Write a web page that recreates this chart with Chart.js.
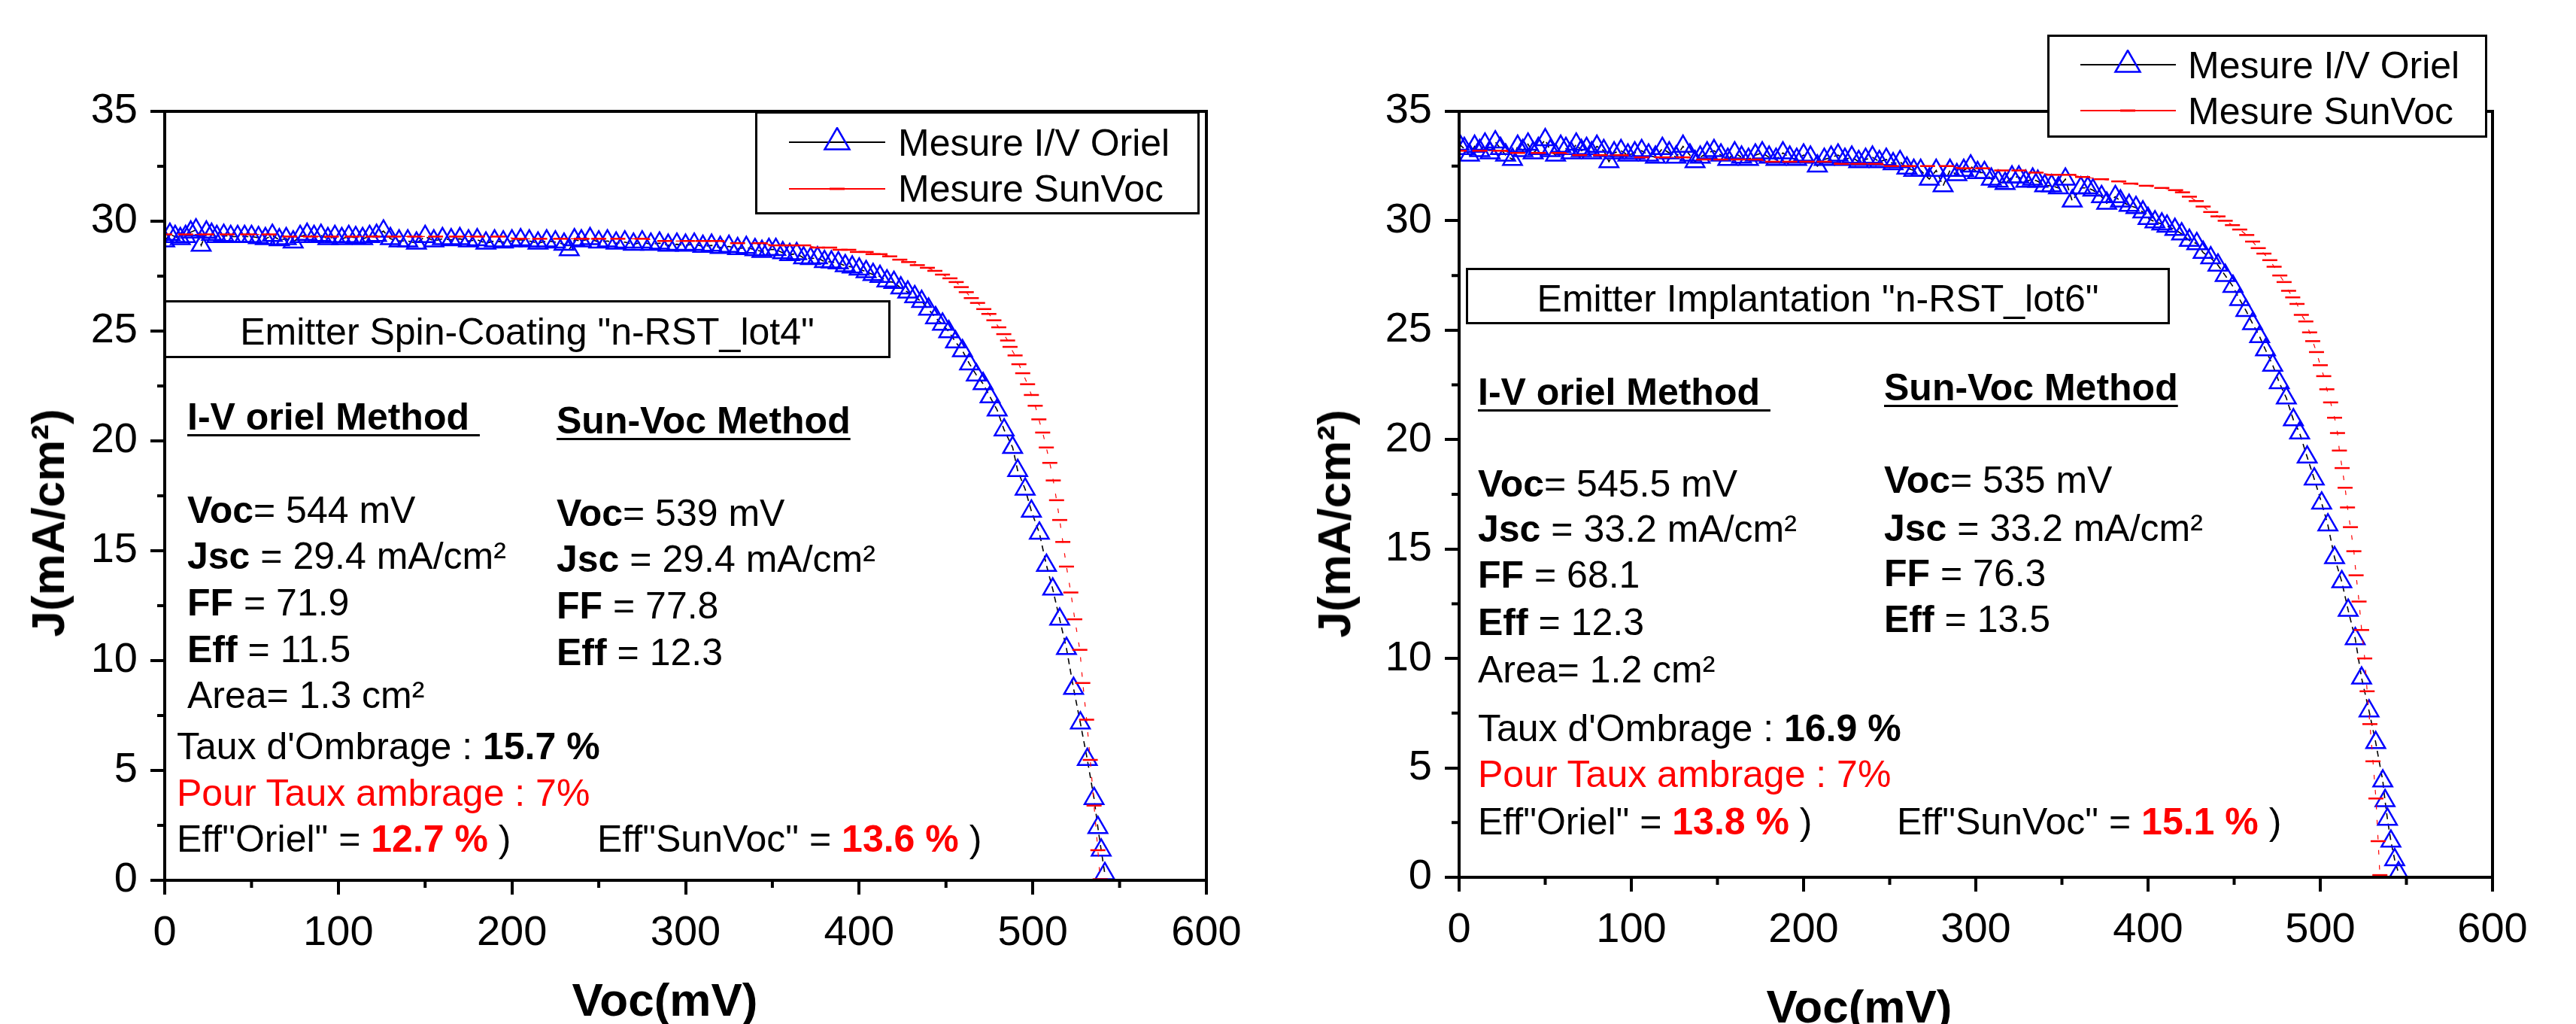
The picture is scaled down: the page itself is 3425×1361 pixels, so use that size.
<!DOCTYPE html>
<html>
<head>
<meta charset="utf-8">
<script src="https://cdn.jsdelivr.net/npm/chart.js@4.4.1/dist/chart.umd.min.js"></script>
<style>
  html, body { margin: 0; padding: 0; background: #fff; }
  #page { position: relative; width: 3425px; height: 1361px; overflow: hidden; background: #fff; }
  canvas { position: absolute; top: 0; }
  .t { position: absolute; font: 50px/50px 'Liberation Sans', Arial, sans-serif; white-space: pre; color: #000; }
  .red { color: #f00; }
  .u { text-decoration: underline; text-decoration-thickness: 3px; text-underline-offset: 6px; }
  .box { position: absolute; border: 3px solid #000; background: #fff; box-sizing: border-box; }
  .axt { position: absolute; font: bold 62px/62px 'Liberation Sans', Arial, sans-serif; white-space: pre; color: #000; }
  svg { position: absolute; }
</style>
</head>
<body>
<div id="page">
  <canvas id="cL" width="1700" height="1361" style="left:0"></canvas>
  <canvas id="cR" width="1725" height="1361" style="left:1700px"></canvas>

  <!-- left chart notes -->
  <div class="box" style="left:1004px;top:148px;width:591px;height:137px">
    <svg style="left:42px;top:18px" width="128" height="40"><line x1="0" y1="20" x2="128" y2="20" stroke="#000" stroke-width="2"/><polygon points="64,1 80.5,29.5 47.5,29.5" fill="none" stroke="#00f" stroke-width="2.5"/></svg>
    <div class="t" style="left:187px;top:14px">Mesure I/V Oriel</div>
    <svg style="left:42px;top:80px" width="128" height="40"><line x1="0" y1="20" x2="128" y2="20" stroke="#f00" stroke-width="2"/><line x1="54" y1="20" x2="74" y2="20" stroke="#f00" stroke-width="3"/></svg>
    <div class="t" style="left:187px;top:75px">Mesure SunVoc</div>
  </div>
  <div class="box" style="left:218px;top:399px;width:966px;height:77px"></div>
  <div class="t" style="left:218px;top:416px;width:966px;text-align:center">Emitter Spin-Coating "n-RST_lot4"</div>
  <div class="t u" style="left:249px;top:529px"><b>I-V oriel Method </b></div>
  <div class="t u" style="left:740px;top:534px"><b>Sun-Voc Method</b></div>
  <div class="t" style="left:249px;top:653px"><b>Voc</b>= 544 mV</div>
  <div class="t" style="left:249px;top:714px"><b>Jsc</b> = 29.4 mA/cm²</div>
  <div class="t" style="left:249px;top:776px"><b>FF</b> = 71.9</div>
  <div class="t" style="left:249px;top:838px"><b>Eff</b> = 11.5</div>
  <div class="t" style="left:249px;top:899px">Area= 1.3 cm²</div>
  <div class="t" style="left:740px;top:657px"><b>Voc</b>= 539 mV</div>
  <div class="t" style="left:740px;top:718px"><b>Jsc</b> = 29.4 mA/cm²</div>
  <div class="t" style="left:740px;top:780px"><b>FF</b> = 77.8</div>
  <div class="t" style="left:740px;top:842px"><b>Eff</b> = 12.3</div>
  <div class="t" style="left:235px;top:967px">Taux d'Ombrage : <b>15.7 %</b></div>
  <div class="t red" style="left:235px;top:1029px">Pour Taux ambrage : 7%</div>
  <div class="t" style="left:235px;top:1090px">Eff"Oriel" = <b class="red">12.7 %</b> )</div>
  <div class="t" style="left:794px;top:1090px">Eff"SunVoc" = <b class="red">13.6 %</b> )</div>
  <div class="axt" style="left:64px;top:695px;transform:translate(-50%,-50%) rotate(-90deg)">J(mA/cm²)</div>
  <div class="axt" style="left:884px;top:1298px;transform:translateX(-50%)">Voc(mV)</div>

  <!-- right chart notes -->
  <div class="box" style="left:2722px;top:46px;width:585px;height:137px">
    <svg style="left:41px;top:17px" width="128" height="40"><line x1="0" y1="20" x2="127" y2="20" stroke="#000" stroke-width="2"/><polygon points="63,1 79.5,29.5 46.5,29.5" fill="none" stroke="#00f" stroke-width="2.5"/></svg>
    <div class="t" style="left:184px;top:13px">Mesure I/V Oriel</div>
    <svg style="left:41px;top:78px" width="128" height="40"><line x1="0" y1="20" x2="127" y2="20" stroke="#f00" stroke-width="2"/><line x1="53" y1="20" x2="73" y2="20" stroke="#f00" stroke-width="3"/></svg>
    <div class="t" style="left:184px;top:74px">Mesure SunVoc</div>
  </div>
  <div class="box" style="left:1949px;top:356px;width:936px;height:75px"></div>
  <div class="t" style="left:1949px;top:372px;width:936px;text-align:center">Emitter Implantation "n-RST_lot6"</div>
  <div class="t u" style="left:1965px;top:496px"><b>I-V oriel Method </b></div>
  <div class="t u" style="left:2505px;top:490px"><b>Sun-Voc Method</b></div>
  <div class="t" style="left:1965px;top:618px"><b>Voc</b>= 545.5 mV</div>
  <div class="t" style="left:1965px;top:678px"><b>Jsc</b> = 33.2 mA/cm²</div>
  <div class="t" style="left:1965px;top:739px"><b>FF</b> = 68.1</div>
  <div class="t" style="left:1965px;top:802px"><b>Eff</b> = 12.3</div>
  <div class="t" style="left:1965px;top:865px">Area= 1.2 cm²</div>
  <div class="t" style="left:2505px;top:613px"><b>Voc</b>= 535 mV</div>
  <div class="t" style="left:2505px;top:677px"><b>Jsc</b> = 33.2 mA/cm²</div>
  <div class="t" style="left:2505px;top:737px"><b>FF</b> = 76.3</div>
  <div class="t" style="left:2505px;top:798px"><b>Eff</b> = 13.5</div>
  <div class="t" style="left:1965px;top:943px">Taux d'Ombrage : <b>16.9 %</b></div>
  <div class="t red" style="left:1965px;top:1004px">Pour Taux ambrage : 7%</div>
  <div class="t" style="left:1965px;top:1067px">Eff"Oriel" = <b class="red">13.8 %</b> )</div>
  <div class="t" style="left:2522px;top:1067px">Eff"SunVoc" = <b class="red">15.1 %</b> )</div>
  <div class="axt" style="left:1774px;top:696px;transform:translate(-50%,-50%) rotate(-90deg)">J(mA/cm²)</div>
  <div class="axt" style="left:2472px;top:1307px;transform:translateX(-50%)">Voc(mV)</div>
</div>

<script>
// values: voltage in mV, current density in mA/cm2

// left panel, I/V Oriel (triangles)
const leftOrielV = [0, 3, 6, 9, 12, 15, 18, 21, 24, 27, 30, 34, 38, 42, 46, 50, 54, 58, 62, 66,
  70, 74, 78, 82, 86, 90, 94, 98, 102, 106, 110, 114, 118, 122, 126, 130, 135, 140, 145, 150,
  155, 160, 165, 170, 175, 180, 185, 190, 195, 200, 205, 210, 215, 220, 225, 230, 233, 236, 240, 245,
  250, 255, 260, 265, 270, 275, 280, 285, 290, 295, 300, 305, 310, 315, 320, 325, 330, 335, 340,
  344, 348, 352, 356, 360, 364, 368, 372, 376, 380, 384, 388, 392, 396, 400, 404, 408, 412, 416, 420,
  424, 428, 432, 436, 440, 444, 448, 451.6, 455.5, 459.5, 463.6, 467.5, 471.4, 475.4, 479.5, 483.5,
  488.4, 491.3, 495.6, 499.2, 503.8, 507.9, 511.5, 515.5, 519.4, 523.5, 527.4, 531.4, 535.3, 537.5, 539.4, 541.5];
const leftOrielJ = [29.1, 29.4, 29.3, 29.2, 29.3, 29.5, 29.6, 28.9, 29.5, 29.4, 29.3, 29.35, 29.3, 29.3, 29.3, 29.3, 29.25, 29.2, 29.35, 29.15,
  29.2, 29.05, 29.3, 29.4, 29.3, 29.35, 29.2, 29.3, 29.2, 29.3, 29.25, 29.2, 29.3, 29.35, 29.55, 29.2, 29.1, 29.1, 29.0, 29.3,
  29.1, 29.2, 29.15, 29.2, 29.1, 29.15, 29.0, 29.1, 29.05, 29.1, 29.15, 29.1, 29.0, 29.1, 29.05, 28.95, 28.7, 29.15, 29.1, 29.2,
  29.05, 29.1, 29.0, 29.05, 28.95, 29.05, 28.95, 29.0, 28.9, 28.95, 28.9, 28.95, 28.85, 28.9, 28.8, 28.85, 28.75, 28.8, 28.7,
  28.62, 28.71, 28.71, 28.56, 28.48, 28.52, 28.33, 28.3, 28.33, 28.16, 28.14, 28.1, 27.97, 27.91, 27.82, 27.7, 27.57, 27.48, 27.28, 27.21,
  26.96, 26.77, 26.56, 26.34, 25.99, 25.6, 25.31, 24.97, 24.5, 24.1, 23.5, 23.0, 22.6, 22.0, 21.4, 20.5,
  19.7, 18.65, 17.8, 16.8, 15.8, 14.33, 13.25, 11.88, 10.55, 8.73, 7.16, 5.5, 3.72, 2.4, 1.37, 0.3];

// left panel, SunVoc (red dashes)
const leftSunVocV = [0, 12, 24, 36, 48, 60, 72, 84, 96, 108, 120, 132, 144, 156, 168, 180, 192, 204, 216, 228,
  240, 250, 261, 275, 288, 301, 310, 318, 330, 343, 352, 360, 368, 376, 383, 389, 394, 399, 404, 408,
  412, 417.6, 423.4, 428.5, 433.5, 439.3, 443.6, 448, 452.3, 455.9, 458.8, 461.7, 464.6, 468.2, 471.8, 474.7, 477.6, 480.4, 483.3, 485.5,
  486.9, 489.8, 492, 494.2, 497, 499.2, 501.4, 503.5, 505.7, 507.8, 509.8, 511.8, 513.7, 515.5, 517.3, 519.4, 521.9, 524.2, 527.1, 528.8,
  531, 533.1, 535.3, 537.5, 538.8];
const leftSunVocJ = [29.4, 29.4, 29.4, 29.4, 29.4, 29.4, 29.3, 29.3, 29.3, 29.3, 29.3, 29.3, 29.3, 29.3, 29.3, 29.3, 29.3, 29.2, 29.2, 29.2,
  29.2, 29.2, 29.2, 29.2, 29.1, 29.1, 29.1, 29.1, 29.0, 29.0, 28.9, 28.9, 28.9, 28.8, 28.8, 28.7, 28.7, 28.6, 28.6, 28.5,
  28.5, 28.4, 28.25, 28.14, 28.0, 27.88, 27.74, 27.57, 27.4, 27.23, 27.0, 26.77, 26.5, 26.28, 26.0, 25.78, 25.49, 25.17, 24.86, 24.57,
  24.28, 23.89, 23.49, 23.08, 22.58, 22.09, 21.6, 20.98, 20.38, 19.7, 19.0, 18.2, 17.3, 16.4, 15.4, 14.28, 13.1, 11.88, 10.49, 8.98,
  7.31, 5.48, 3.4, 1.37, 0.05];

// right panel, I/V Oriel (triangles)
const rightOrielV = [0, 3, 6, 9, 12, 15, 18, 21, 24, 27, 31, 34, 37, 40, 43, 46, 50, 53, 56, 59,
  62, 65, 68, 71, 74, 77, 80, 84, 87, 90, 94, 98, 102, 106, 110, 114, 118, 122, 126, 130,
  134, 137, 140, 144, 148, 152, 156, 160, 164, 168, 172, 176, 180, 184, 188, 192, 196, 200, 204, 208,
  212, 216, 220, 224, 228, 232, 236, 240, 244, 248, 252, 256, 260, 264, 268, 273, 277, 281, 285, 289,
  293, 297, 301, 305, 309, 313, 317, 321, 325, 329, 333, 336, 340, 344, 348, 352, 356, 361, 365, 368,
  373, 376, 381, 384, 389, 393, 397, 400, 404, 408, 411, 415.6, 419.5, 424, 428.3, 432, 436.4, 440.6, 444.8, 449.3,
  453.2, 456.8, 460.7, 464.8, 468.2, 472.4, 476.2, 480.3, 484.4, 488, 492.4, 496.5, 500.8, 504.4, 508.3, 512.5, 516.2, 520.3, 524, 528.3,
  532.2, 536.3, 537.6, 539, 541, 543.2, 545.4];
const rightOrielJ = [33.5, 33.3, 33.0, 33.4, 33.2, 33.5, 33.1, 33.6, 33.3, 33.0, 32.8, 33.4, 33.2, 33.5, 33.1, 33.3, 33.7, 33.2, 33.0, 33.4,
  33.3, 33.1, 33.5, 33.2, 33.3, 33.1, 33.4, 33.2, 32.7, 33.1, 33.2, 33.0, 33.1, 33.2, 33.0, 32.9, 33.3, 33.1, 32.9, 33.4,
  33.0, 32.7, 32.9, 33.1, 33.2, 33.0, 32.8, 33.1, 32.9, 32.8, 33.0, 33.1, 32.9, 32.8, 33.1, 32.9, 32.8, 33.0, 32.9, 32.5,
  32.8, 32.9, 33.0, 32.8, 32.9, 32.7, 32.8, 32.9, 32.7, 32.8, 32.6, 32.7, 32.4, 32.3, 32.3, 31.9, 32.3, 31.6, 32.3, 32.1,
  32.3, 32.5, 32.2, 32.2, 31.9, 31.8, 31.7, 32.0, 32.0, 31.8, 31.9, 31.8, 31.6, 31.6, 31.5, 31.9, 30.9, 31.5, 31.5, 31.4,
  31.1, 30.8, 31.1, 30.9, 30.7, 30.6, 30.4, 30.1, 29.95, 29.85, 29.75, 29.6, 29.4, 29.1, 28.95, 28.55, 28.3, 27.97, 27.5, 27.0,
  26.4, 25.9, 25.3, 24.7, 24.1, 23.4, 22.6, 21.9, 20.9, 20.3, 19.2, 18.2, 17.1, 16.1, 14.6, 13.5, 12.2, 10.9, 9.1, 7.6,
  6.15, 4.4, 3.5, 2.65, 1.65, 0.8, 0.2];

// right panel, SunVoc (red dashes)
const rightSunVocV = [0, 12, 24, 34, 46, 58, 70, 82, 94, 106, 118, 130, 142, 152, 162, 172, 182, 192, 202, 212,
  222, 232, 242, 251, 261, 272, 283, 293, 304, 315, 325, 335, 345, 354, 362, 373, 383, 390, 399, 408,
  416, 420, 424, 428, 432, 436.4, 440.6, 444.8, 449, 453.2, 457.3, 460.7, 464, 467.3, 470.7, 473.2, 476.5, 479, 481.6, 484,
  486.5, 489, 491.6, 493.8, 495.6, 497.8, 500, 502, 503.8, 506, 508.3, 510, 511.1, 512.7, 514.4, 515.8, 517.5, 519.5, 520.8, 522.5,
  524, 525.8, 527.2, 528.8, 530.6, 532.3, 533.6, 534.6];
const rightSunVocJ = [33.2, 33.2, 33.2, 33.1, 33.1, 33.1, 33.0, 33.0, 33.0, 32.9, 32.9, 32.9, 32.8, 32.8, 32.8, 32.8, 32.7, 32.7, 32.7, 32.7,
  32.6, 32.6, 32.6, 32.5, 32.5, 32.5, 32.5, 32.4, 32.4, 32.3, 32.3, 32.2, 32.1, 32.1, 32.0, 31.9, 31.8, 31.7, 31.6, 31.5,
  31.4, 31.3, 31.1, 30.9, 30.65, 30.4, 30.2, 30.0, 29.8, 29.6, 29.35, 29.05, 28.75, 28.5, 28.2, 27.9, 27.5, 27.2, 26.8, 26.5,
  26.2, 25.7, 25.4, 24.9, 24.5, 24.0, 23.4, 22.9, 22.3, 21.7, 21.0, 20.3, 19.5, 18.7, 17.8, 16.9, 16.0, 14.9, 13.8, 12.6,
  11.3, 10.0, 8.5, 7.0, 5.3, 3.6, 1.65, 0.1];

// minor tick positions
const xMinor = [50, 150, 250, 350, 450, 550];
const yMinor = [2.5, 7.5, 12.5, 17.5, 22.5, 27.5, 32.5];

Chart.defaults.font.family = "'Liberation Sans', Arial, sans-serif";
Chart.defaults.font.size = 56;
Chart.defaults.color = '#000';

function pairs(xs, ys) {
  return xs.map((v, i) => ({x: v, y: ys[i]}));
}

// box around the plot + short minor ticks
const frame = {
  id: 'frame',
  afterDraw(chart) {
    const {ctx, chartArea: a} = chart;
    const x = chart.scales.x, y = chart.scales.y;
    ctx.save();
    ctx.strokeStyle = '#000';
    ctx.lineWidth = 4;
    ctx.strokeRect(a.left, a.top, a.right - a.left, a.bottom - a.top);
    ctx.beginPath();
    xMinor.forEach(v => {
      const px = x.getPixelForValue(v);
      ctx.moveTo(px, a.bottom);
      ctx.lineTo(px, a.bottom + 10);
    });
    yMinor.forEach(v => {
      const py = y.getPixelForValue(v);
      ctx.moveTo(a.left, py);
      ctx.lineTo(a.left - 10, py);
    });
    ctx.stroke();
    ctx.restore();
  }
};

function makeChart(id, orielV, orielJ, sunV, sunJ, box) {
  const axisGrid = {drawOnChartArea: false, drawTicks: true, tickLength: 19, tickWidth: 4, tickColor: '#000', lineWidth: 4};
  return new Chart(document.getElementById(id), {
    type: 'scatter',
    data: {
      datasets: [
        {
          label: 'Mesure SunVoc',
          data: pairs(sunV, sunJ),
          showLine: true,
          borderColor: '#ff0000',
          borderWidth: 1.2,
          borderDash: [6, 14],
          pointStyle: 'line',
          pointRadius: 10,
          pointBorderColor: '#ff0000',
          pointBorderWidth: 2.5,
          order: 0
        },
        {
          label: 'Mesure I/V Oriel',
          data: pairs(orielV, orielJ),
          showLine: true,
          borderColor: '#000',
          borderWidth: 1.6,
          borderDash: [8, 6],
          pointStyle: 'triangle',
          pointRadius: 14.5,
          pointBorderColor: '#0000ff',
          pointBackgroundColor: 'rgba(0,0,0,0)',
          pointBorderWidth: 2.5,
          order: 1
        }
      ]
    },
    options: {
      responsive: false,
      animation: false,
      devicePixelRatio: 1,
      layout: {padding: {top: box.top, right: box.right, left: 0, bottom: 0}},
      plugins: {legend: {display: false}, tooltip: {enabled: false}},
      scales: {
        x: {
          type: 'linear',
          min: 0,
          max: 600,
          ticks: {stepSize: 100, padding: 18, maxRotation: 0, autoSkip: false},
          grid: axisGrid,
          border: {display: true, width: 4, color: '#000'},
          afterFit: s => { s.height = box.xh; }
        },
        y: {
          min: 0,
          max: 35,
          ticks: {stepSize: 5, padding: 17, autoSkip: false},
          grid: axisGrid,
          border: {display: true, width: 4, color: '#000'},
          afterFit: s => { s.width = box.yw; }
        }
      }
    },
    plugins: [frame]
  });
}

makeChart('cL', leftOrielV, leftOrielJ, leftSunVocV, leftSunVocJ, {top: 148, right: 96, xh: 191, yw: 219});
makeChart('cR', rightOrielV, rightOrielJ, rightSunVocV, rightSunVocJ, {top: 148, right: 111, xh: 195, yw: 240});
</script>
</body>
</html>
